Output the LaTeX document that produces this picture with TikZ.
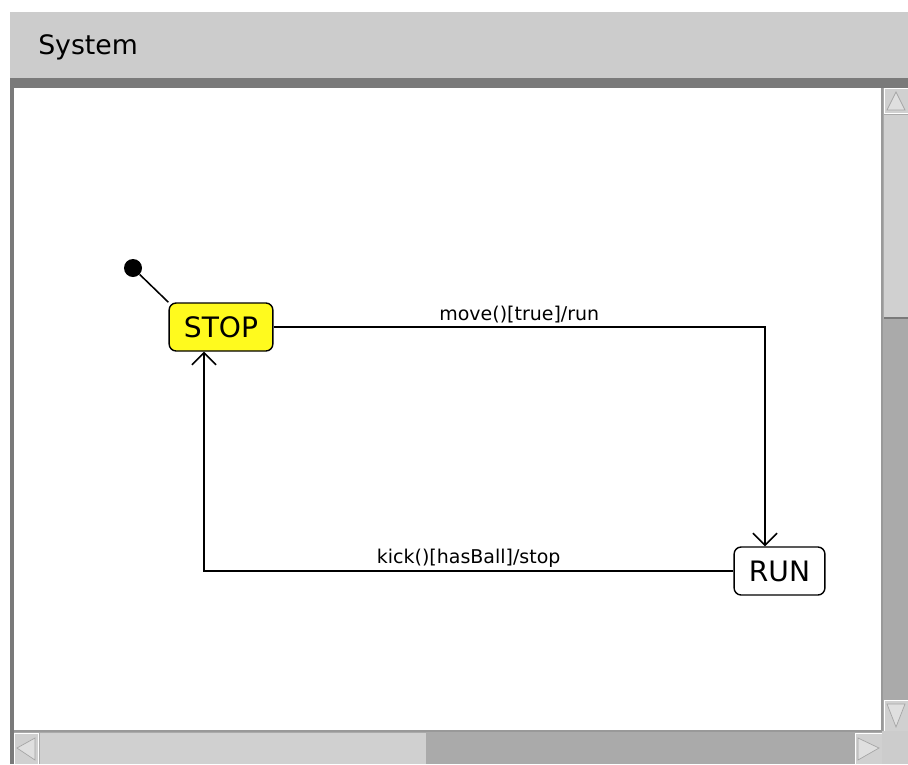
\documentclass[tikz,border=0pt]{standalone}
\usepackage{fontspec}
\setmainfont{DejaVu Sans}
\usetikzlibrary{arrows.meta}
\definecolor{barGray}{RGB}{204,204,204}
\definecolor{bandGray}{RGB}{122,122,122}
\definecolor{thumbGray}{RGB}{208,208,208}
\definecolor{trackGray}{RGB}{170,170,170}
\definecolor{stopYellow}{RGB}{255,250,30}
\tikzset{
  statebox/.style={draw=black,line width=1pt,rounded corners=5pt,
    minimum height=1.2cm,inner xsep=0.37cm,font=\fontsize{20}{22}\selectfont},
  trans/.style={draw=black,line width=1.1pt,-{Straight Barb[length=0.3cm,width=0.6cm]}},
  tlabel/.style={font=\fontsize{13.5}{15}\selectfont,inner sep=2pt},
  initdot/.style={circle,fill=black,minimum size=0.45cm,inner sep=0pt},
  arrowbtn/.style={fill=thumbGray,draw=white,line width=0.6pt},
  tri/.style={fill=white!75!gray,draw=gray!70,line width=0.5pt},
}
\begin{document}
\begin{tikzpicture}[x=0.025cm,y=-0.025cm]
  \useasboundingbox (0,0) rectangle (908,764);
  \fill[white] (0,0) rectangle (908,764);
  % window frame
  \fill[barGray] (10,12) rectangle (908,80);
  \node[anchor=west,font=\fontsize{19}{21}\selectfont,inner sep=0pt] (title) at (38,47) {System};
  \fill[bandGray] (10,78) rectangle (908,88);
  \fill[bandGray] (10,78) rectangle (14,764);
  \fill[white] (14,88) rectangle (882,731);
  % vertical scrollbar
  \fill[trackGray] (882,88) rectangle (908,731);
  \fill[arrowbtn] (884,88) rectangle (908,113);
  \filldraw[tri] (896,92) -- (905,110) -- (887,110) -- cycle;
  \fill[thumbGray] (884,115) rectangle (908,318);
  \draw[bandGray,line width=1pt] (884,318) -- (908,318);
  \fill[arrowbtn] (884,700) rectangle (908,731);
  \filldraw[tri] (896,727) -- (905,704) -- (887,704) -- cycle;
  \draw[gray!80,line width=1.2pt] (882,88) -- (882,731);
  % horizontal scrollbar
  \fill[trackGray] (14,731) rectangle (882,764);
  \fill[arrowbtn] (14,733) rectangle (38,764);
  \filldraw[tri] (17,748) -- (35,738) -- (35,760) -- cycle;
  \fill[thumbGray] (40,733) rectangle (426,764);
  \fill[arrowbtn] (855,733) rectangle (882,764);
  \filldraw[tri] (879,748) -- (858,738) -- (858,760) -- cycle;
  \fill[barGray] (882,731) rectangle (908,764);
  \draw[gray!80,line width=1.2pt] (14,731) -- (882,731);
  % states
  \node[statebox,fill=stopYellow] (stop) at (221,327) {STOP};
  \node[statebox,fill=white] (run) at (779.5,571) {RUN};
  \node[initdot] (init) at (133,268) {};
  \draw[line width=1.1pt] (init) -- (stop.north west);
  % transitions
  \coordinate (bendA) at (765,327);
  \coordinate (bendB) at (204,571);
  \draw[trans] (stop.east) -- node[tlabel,above] {move()[true]/run} (bendA) -- (bendA |- run.north);
  \draw[trans] (run.west) -- node[tlabel,above] {kick()[hasBall]/stop} (bendB) -- (bendB |- stop.south);
\end{tikzpicture}
\end{document}
